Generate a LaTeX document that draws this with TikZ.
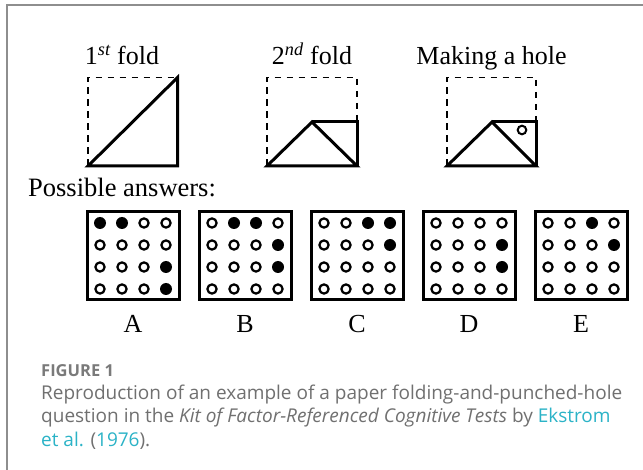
\documentclass[tikz,border=0pt]{standalone}
\usepackage{fontspec}
\setmainfont{Liberation Serif}
\newfontfamily\capfont{Open Sans}
\definecolor{framegray}{HTML}{8E8E8E}
\definecolor{capgray}{HTML}{707070}
\definecolor{figgray}{HTML}{7A7A7A}
\definecolor{linkcol}{HTML}{2BB3C7}
\tikzset{
  shapeline/.style={line width=3pt, line join=miter},
  dashline/.style={line width=1.3pt, dash pattern=on 6.5pt off 5.5pt},
  gridbox/.style={line width=3pt},
  lbl/.style={font=\fontsize{26}{29}\selectfont, anchor=base, inner sep=0pt},
  capline/.style={font=\capfont\fontsize{19}{23}\selectfont, anchor=base west, inner sep=0pt, text=capgray},
}
\begin{document}
\begin{tikzpicture}[x=1pt,y=-1pt]
\useasboundingbox (0,0) rectangle (643,470);
\fill[white] (0,0) rectangle (643,470);
% frame
\draw[framegray, line width=2pt] (6.5,471) -- (6.5,5.5) -- (644,5.5);

% titles
\node[lbl] (t1) at (122,65) {1\textsuperscript{\itshape st} fold};
\node[lbl] (t2) at (312,65) {2\textsuperscript{\itshape nd} fold};
\node[lbl] (t3) at (491.5,65) {Making a hole};

% 1st fold
\draw[dashline] (88,166) -- (88,77.5) -- (177,77.5);
\draw[shapeline] (88,166) -- (177.5,77.5) -- (177.5,166) -- cycle;

% 2nd fold
\draw[dashline] (267,166) -- (267,77.5) -- (357,77.5) -- (357,122);
\draw[shapeline] (267,166) -- (312,122) -- (357,166) -- cycle;
\draw[shapeline] (312,122) -- (357,122) -- (357,166);

% making a hole
\draw[dashline] (447,166) -- (447,77.5) -- (536,77.5) -- (536,122);
\draw[shapeline] (447,166) -- (492,122) -- (536,166) -- cycle;
\draw[shapeline] (492,122) -- (536,122) -- (536,166);
\draw[line width=2pt] (522,130) circle[radius=4.3];

% possible answers
\node[font=\fontsize{26.5}{29}\selectfont, anchor=base west, inner sep=0pt] (pa) at (28,197) {Possible answers:};

% answer grids
\foreach \cx/\name/\pat in {
  133/A/{1,1,0,0, 0,0,0,0, 0,0,0,1, 0,0,0,1},
  245/B/{0,1,1,0, 0,0,0,1, 0,0,0,1, 0,0,0,0},
  357/C/{0,0,1,1, 0,0,0,1, 0,0,0,0, 0,0,0,0},
  469/D/{0,0,0,0, 0,0,0,1, 0,0,0,1, 0,0,0,0},
  581/E/{0,0,1,0, 0,0,0,1, 0,0,0,0, 0,0,0,0}} {
  \draw[gridbox] (\cx-46,212) rectangle (\cx+46,300);
  \foreach \v [count=\i from 0] in \pat {
    \pgfmathtruncatemacro{\r}{div(\i,4)}
    \pgfmathtruncatemacro{\c}{mod(\i,4)}
    \pgfmathsetmacro{\px}{\cx-33+22*\c}
    \pgfmathsetmacro{\py}{223+22*\r}
    \ifnum\v=1
      \fill (\px,\py) circle[radius=6];
    \else
      \draw[line width=2.2pt] (\px,\py) circle[radius=4.6];
    \fi
  }
  \node[lbl] (lab\name) at (\cx,333) {\name};
}

% caption
\node[font=\capfont\bfseries\fontsize{16.5}{19}\selectfont, anchor=base west, inner sep=0pt, text=figgray] (fig) at (41,377) {FIGURE 1};
\node[capline] (c1) at (41,399.5) {Reproduction of an example of a paper folding-and-punched-hole};
\node[capline] (c2) at (41,423) {question in the \textit{Kit of Factor-Referenced Cognitive Tests} by \textcolor{linkcol}{Ekstrom}};
\node[capline] (c3) at (41,446.5) {\textcolor{linkcol}{et al.} (\textcolor{linkcol}{1976}).};
\end{tikzpicture}
\end{document}
